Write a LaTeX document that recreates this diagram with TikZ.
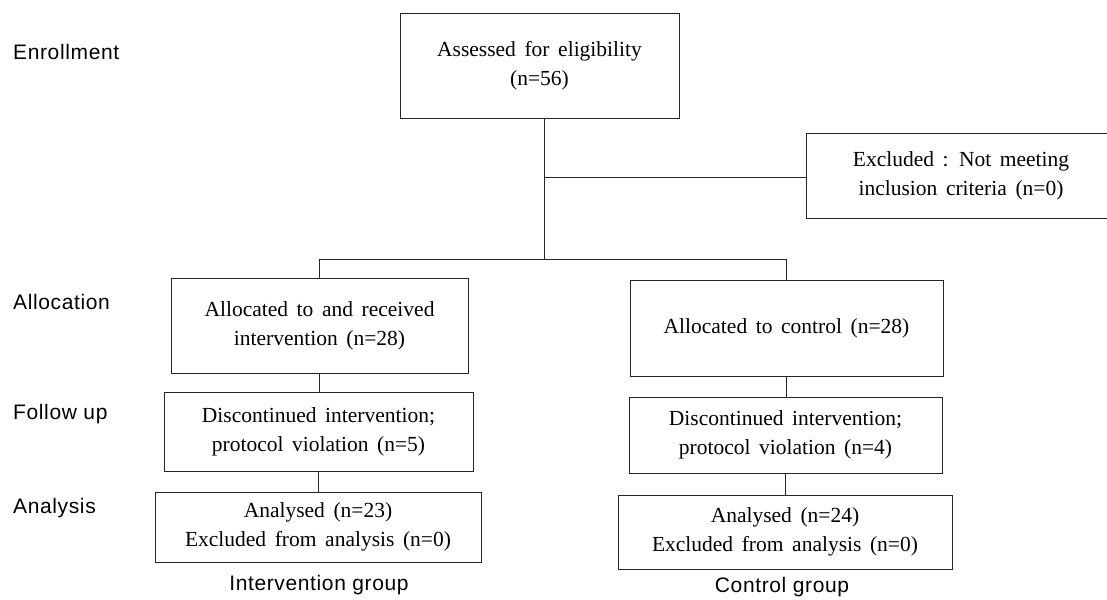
\documentclass[tikz,border=0pt]{standalone}
\usepackage{fontspec}
\setmainfont{Liberation Serif}
\newfontfamily\bxfam[WordSpace={1.6,1.2,1}]{Liberation Serif}
\newfontfamily\labfont[LetterSpace=3]{Liberation Sans}
\begin{document}
\begin{tikzpicture}[x=1pt,y=-1pt,
  box/.style={draw=black!85,line width=0.8pt,rectangle,inner sep=0pt,align=center,
    font=\bxfam\fontsize{21.5}{29}\selectfont},
  stage/.style={anchor=west,inner sep=0pt,font=\labfont\fontsize{21}{25}\selectfont},
  grp/.style={inner sep=0pt,font=\labfont\fontsize{21}{25}\selectfont},
  conn/.style={draw=black!85,line width=0.8pt}]
\useasboundingbox (0,0) rectangle (1107,599);
% stage labels
\node[stage] (sEnr) at (13,52) {Enrollment};
\node[stage] (sAll) at (13,302) {Allocation};
\node[stage] (sFol) at (13,414) {Follow up};
\node[stage] (sAna) at (13,508) {Analysis};
% boxes
\node[box,minimum width=279pt,minimum height=105pt] (top) at (539.5,65.5) {Assessed for eligibility\\(n=56)};
\node[box,minimum width=310pt,minimum height=85pt] (excl) at (961,175.5) {Excluded : Not meeting\\inclusion criteria (n=0)};
\node[box,minimum width=297pt,minimum height=95pt] (L1) at (319.5,325.5) {Allocated to and received\\intervention (n=28)};
\node[box,minimum width=309pt,minimum height=79pt] (L2) at (318.5,431.5) {Discontinued intervention;\\protocol violation (n=5)};
\node[box,minimum width=326pt,minimum height=70pt] (L3) at (318,527) {Analysed (n=23)\\Excluded from analysis (n=0)};
\node[box,minimum width=313pt,minimum height=96pt] (R1) at (786.5,328) {Allocated to control (n=28)};
\node[box,minimum width=313pt,minimum height=76pt] (R2) at (785.5,435) {Discontinued intervention;\\protocol violation (n=4)};
\node[box,minimum width=334pt,minimum height=74pt] (R3) at (785,532) {Analysed (n=24)\\Excluded from analysis (n=0)};
% group labels
\node[grp] (gI) at (319,585) {Intervention group};
\node[grp] (gC) at (782,587) {Control group};
% connectors
\coordinate (jT) at (544,259);
\coordinate (br) at (544,177);
\draw[conn] (top.south -| jT) -- (jT);
\draw[conn] (br) -- (br -| excl.west);
\draw[conn] (L1.north) -- (L1.north |- jT) -- (R1.north |- jT) -- (R1.north);
\draw[conn] (L1.south) -- (L1.south |- L2.north);
\draw[conn] (L2.south) -- (L2.south |- L3.north);
\draw[conn] (R1.south) -- (R1.south |- R2.north);
\draw[conn] (R2.south) -- (R2.south |- R3.north);
\end{tikzpicture}
\end{document}
